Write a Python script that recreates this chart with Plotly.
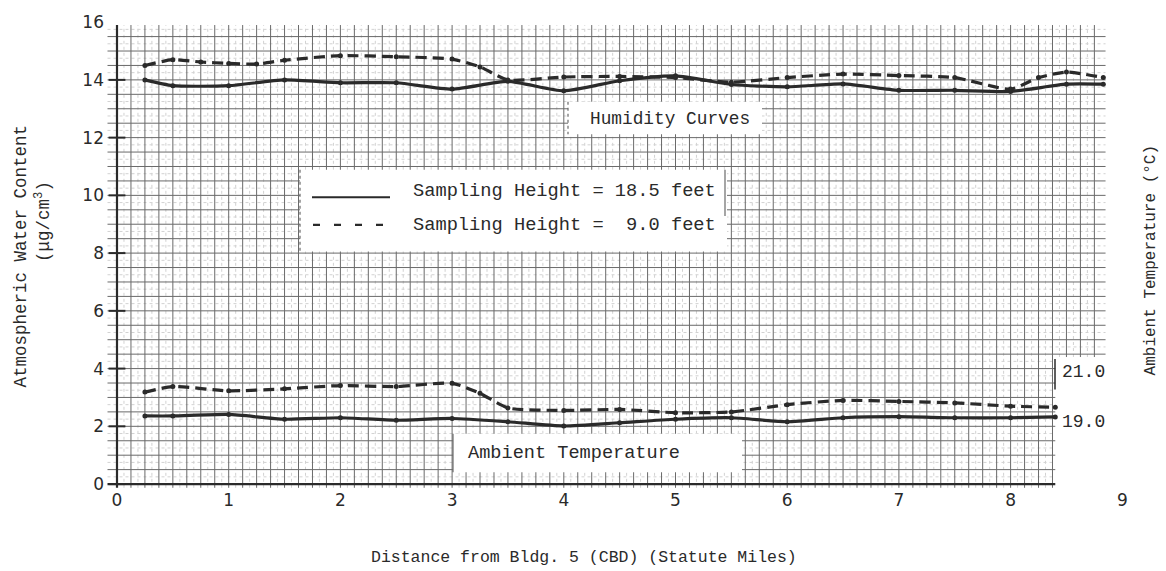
import numpy as np
import plotly.graph_objects as go

# ---- data -------------------------------------------------------------
# distance from Bldg. 5 (CBD), statute miles
hum_miles_185 = [0.25, 0.5, 1.0, 1.5, 2.0, 2.5, 3.0, 3.5, 4.0, 4.5, 5.0, 5.5,
                 6.0, 6.5, 7.0, 7.5, 8.0, 8.5, 8.83]
# atmospheric water content (ug/cm3), sampling height 18.5 ft
hum_185 = [14.0, 13.8, 13.8, 14.0, 13.9, 13.9, 13.68, 13.95, 13.62, 13.97,
           14.14, 13.84, 13.76, 13.86, 13.64, 13.64, 13.6, 13.85, 13.85]

hum_miles_90 = [0.25, 0.5, 0.75, 1.0, 1.25, 1.5, 2.0, 2.5, 3.0, 3.25, 3.5,
                4.0, 4.5, 5.0, 5.5, 6.0, 6.5, 7.0, 7.5, 8.0, 8.25, 8.5, 8.83]
# atmospheric water content (ug/cm3), sampling height 9.0 ft
hum_90 = [14.5, 14.7, 14.62, 14.57, 14.55, 14.68, 14.84, 14.8, 14.72, 14.45,
          14.0, 14.1, 14.12, 14.08, 13.92, 14.08, 14.2, 14.15, 14.08, 13.68,
          14.08, 14.27, 14.08]

temp_miles_185 = [0.25, 0.5, 1.0, 1.5, 2.0, 2.5, 3.0, 3.5, 4.0, 4.5, 5.0,
                  5.5, 6.0, 6.5, 7.0, 7.5, 8.0, 8.4]
# ambient temperature (deg C), sampling height 18.5 ft
temp_185 = [19.2, 19.2, 19.26, 19.07, 19.13, 19.03, 19.1, 18.97, 18.8, 18.93,
            19.07, 19.13, 18.97, 19.13, 19.17, 19.13, 19.13, 19.16]

temp_miles_90 = [0.25, 0.5, 1.0, 1.5, 2.0, 2.5, 3.0, 3.25, 3.5, 4.0, 4.5,
                 5.0, 5.5, 6.0, 6.5, 7.0, 7.5, 8.0, 8.4]
# ambient temperature (deg C), sampling height 9.0 ft
temp_90 = [20.15, 20.37, 20.2, 20.28, 20.41, 20.37, 20.5, 20.1, 19.52, 19.42,
           19.46, 19.33, 19.36, 19.65, 19.82, 19.78, 19.72, 19.59, 19.55]

x_ticks = list(range(0, 10))
y_ticks = list(range(0, 17, 2))
temp_ticks = [19.0, 21.0]
temp_tick_text = ["19.0", "21.0"]

# ---- layout geometry --------------------------------------------------
W, H = 1166, 571
ML, MR, MT, MB = 107, 38, 12, 83
PW, PH = W - ML - MR, H - MT - MB
X_RANGE = [-0.0895, 9.051]
Y_RANGE = [-0.1365, 16.109]
T_RANGE = [16.333, 35.0]

INK = "#2a2a2a"
GRID = "#6a6a6a"
FINE = "#d2d2d2"
MONO = "Liberation Mono"
SANS = "DejaVu Sans"


def px_x(px):
    return X_RANGE[0] + (px - ML) / PW * (X_RANGE[1] - X_RANGE[0])


def px_y(py):
    return Y_RANGE[0] + (MT + PH - py) / PH * (Y_RANGE[1] - Y_RANGE[0])


def paper_x(px):
    return (px - ML) / PW


def paper_y(py):
    return (MT + PH - py) / PH


fig = go.Figure()

# ---- graph-paper ruling -------------------------------------------------
RULE_X, RULE_Y = 0.125, 0.5
X_SHORT, X_LONG = 8.4, 8.85       # right edge of the ruled sheet (lower / upper)
Y_STEP_EDGE = 4.4                 # height where the sheet widens
Y_BOT, Y_TOP = -0.13, 15.9


def segments(lines):
    xs, ys = [], []
    for (x0, y0, x1, y1) in lines:
        xs += [x0, x1, None]
        ys += [y0, y1, None]
    return xs, ys


def ruling(offset):
    lines = []
    for k in np.arange(offset, X_LONG / RULE_X):
        xv = k * RULE_X
        if xv <= 0:
            continue
        if xv <= X_SHORT:
            lines.append((xv, Y_BOT, xv, Y_TOP))
        elif xv <= X_LONG - 0.05:
            lines.append((xv, Y_STEP_EDGE, xv, Y_TOP))
    for k in np.arange(offset, Y_TOP / RULE_Y):
        yv = k * RULE_Y
        if yv <= 0:
            continue
        xr = X_LONG if yv >= Y_STEP_EDGE else X_SHORT
        lines.append((-0.085, yv, xr, yv))
    return segments(lines)


fx, fy = ruling(0.5)
fig.add_trace(go.Scatter(x=fx, y=fy, mode="lines", hoverinfo="skip",
                         line=dict(color=FINE, width=1, dash="dot"),
                         showlegend=False))
gx, gy = ruling(1)
fig.add_trace(go.Scatter(x=gx, y=gy, mode="lines", hoverinfo="skip",
                         line=dict(color=GRID, width=1), showlegend=False))

# main axes lines
ax_x, ax_y = segments([(0, Y_BOT, 0, Y_TOP), (-0.085, 0, X_SHORT, 0)])
fig.add_trace(go.Scatter(x=ax_x, y=ax_y, mode="lines", hoverinfo="skip",
                         line=dict(color=INK, width=2.2), showlegend=False))
fig.add_trace(go.Scatter(x=[0] * (len(y_ticks) - 1), y=y_ticks[:-1],
                         mode="markers", hoverinfo="skip", showlegend=False,
                         marker=dict(symbol="line-ew", size=12,
                                     line=dict(color=INK, width=2))))

# ---- curves -------------------------------------------------------------
solid = dict(color=INK, width=3.2, shape="spline", smoothing=0.6)
dashed = dict(color=INK, width=3.2, shape="spline", smoothing=0.6,
              dash="11px,6px")
mk = dict(size=5, color=INK)

fig.add_trace(go.Scatter(x=hum_miles_185, y=hum_185, mode="lines+markers",
                         line=solid, marker=mk, showlegend=False))
fig.add_trace(go.Scatter(x=hum_miles_90, y=hum_90, mode="lines+markers",
                         line=dashed, marker=mk, showlegend=False))
fig.add_trace(go.Scatter(x=temp_miles_185, y=temp_185, mode="lines+markers",
                         line=solid, marker=mk, yaxis="y2", showlegend=False))
fig.add_trace(go.Scatter(x=temp_miles_90, y=temp_90, mode="lines+markers",
                         line=dashed, marker=mk, yaxis="y2", showlegend=False))

# ---- boxes, legend and labels ---------------------------------------------
shapes = []
annotations = []


def white_box(x0, y0, x1, y1):
    shapes.append(dict(type="rect", xref="x", yref="y", layer="above",
                       x0=px_x(x0), x1=px_x(x1), y0=px_y(y0), y1=px_y(y1),
                       fillcolor="white", line=dict(width=0)))


def rule(x0, y0, x1, y1, width=1.2, dash="solid", color=GRID):
    shapes.append(dict(type="line", xref="x", yref="y", layer="above",
                       x0=px_x(x0), x1=px_x(x1), y0=px_y(y0), y1=px_y(y1),
                       line=dict(color=color, width=width, dash=dash)))


def label(px, py, text, size=18, anchor="center"):
    annotations.append(dict(x=px_x(px), y=px_y(py), xref="x", yref="y",
                            text=text, showarrow=False, xanchor=anchor,
                            yanchor="middle",
                            font=dict(family=MONO, size=size, color=INK)))


# legend box
white_box(300, 165, 727, 248)
rule(300, 165, 300, 248, dash="dot")
rule(725, 165, 725, 212)
rule(312, 193, 390, 193, width=2, color=INK)
rule(313, 221, 392, 221, width=2.2, dash="7px,14px", color=INK)
label(411, 187, "Sampling Height = 18.5 feet", size=18.7, anchor="left")
label(411, 221, "Sampling Height =  9.0 feet", size=18.7, anchor="left")

# curve-group labels
white_box(568, 96, 762, 129)
rule(568, 96, 568, 129, dash="dot")
label(670, 113, "Humidity Curves", size=17.8)

white_box(453, 433, 742, 472)
rule(453, 433, 453, 472)
label(574, 453, "Ambient Temperature", size=18.6)

# bracket beside the temperature scale
rule(1055, 357, 1055, 388, width=1.5, color=INK)


def title(px, py, text, size, angle=0):
    annotations.append(dict(x=paper_x(px), y=paper_y(py), xref="paper",
                            yref="paper", text=text, textangle=angle,
                            showarrow=False, xanchor="center",
                            yanchor="middle",
                            font=dict(family=MONO, size=size, color=INK)))


title(21, 253, "Atmospheric Water Content", 17.5, -90)
title(43, 218, "(μg/cm<sup>3</sup>)", 17.5, -90)
title(1151, 257, "Ambient Temperature (°C)", 16, -90)
title(584, 559, "Distance from Bldg. 5 (CBD) (Statute Miles)", 16.5)

fig.update_layout(
    width=W, height=H,
    margin=dict(l=ML, r=MR, t=MT, b=MB, pad=0),
    paper_bgcolor="white", plot_bgcolor="white",
    shapes=shapes, annotations=annotations,
    xaxis=dict(range=X_RANGE, tickvals=x_ticks, showgrid=False,
               zeroline=False, showline=False, ticks="",
               tickfont=dict(family=SANS, size=17, color=INK)),
    yaxis=dict(range=Y_RANGE, tickvals=y_ticks, showgrid=False,
               zeroline=False, showline=False, ticks="", ticklabelstandoff=2,
               tickfont=dict(family=SANS, size=17, color=INK)),
    yaxis2=dict(range=T_RANGE, overlaying="y", anchor="free", side="right",
                position=paper_x(1055), tickvals=temp_ticks,
                ticktext=temp_tick_text, showgrid=False, zeroline=False,
                showline=False, ticks="", ticklabelstandoff=6,
                tickfont=dict(family=MONO, size=18, color=INK)),
)

fig.write_html("out.html")
